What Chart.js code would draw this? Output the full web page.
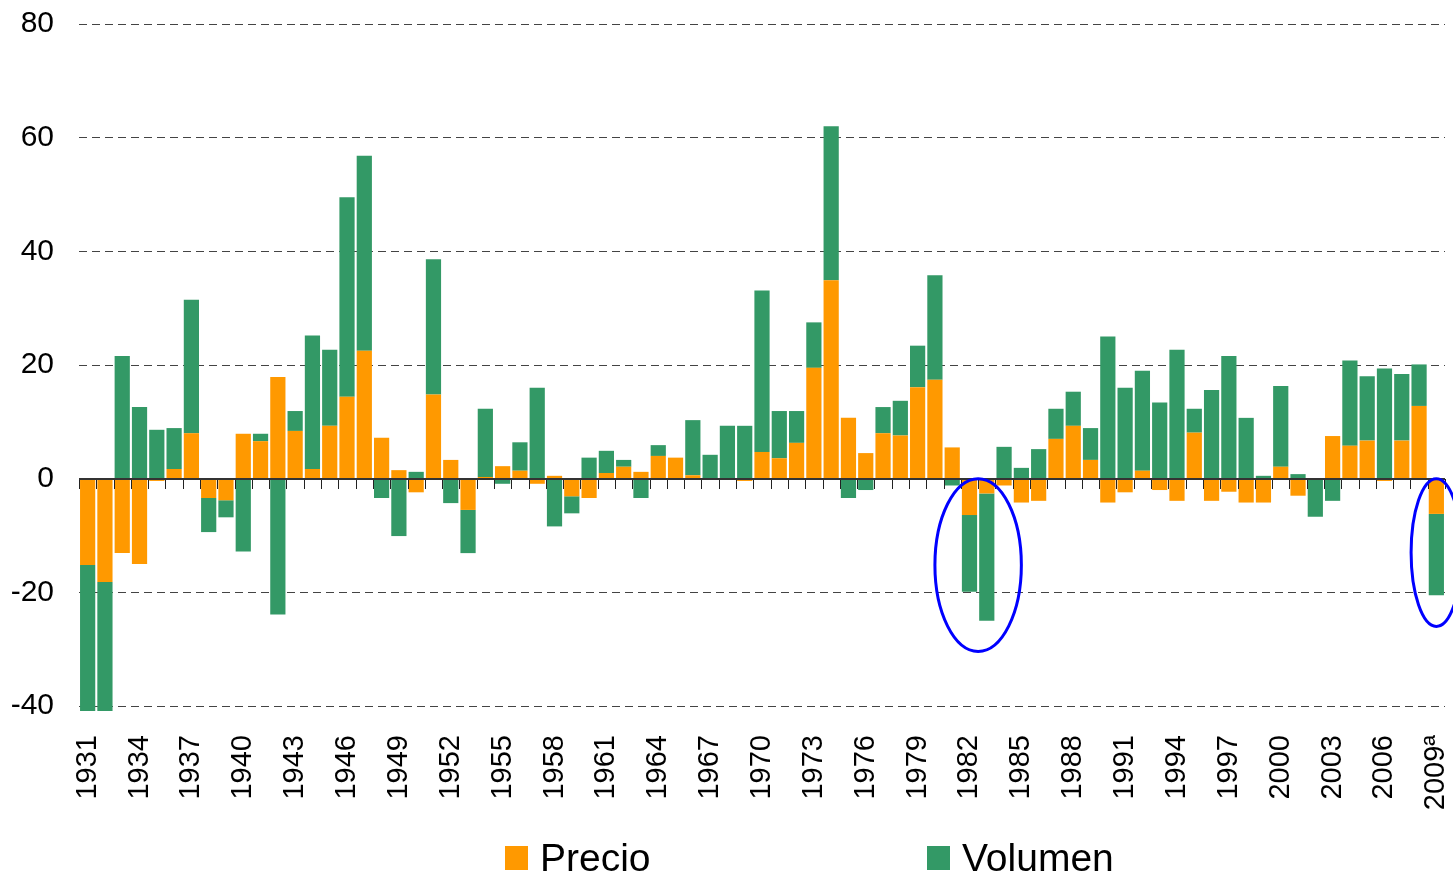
<!DOCTYPE html>
<html>
<head>
<meta charset="utf-8">
<script src="https://cdn.jsdelivr.net/npm/chart.js@4.4.1/dist/chart.umd.min.js"></script>
<style>
  html, body { margin: 0; padding: 0; background: #fff; }
  #wrap { position: relative; width: 1453px; height: 875px; }
  #legend { position: absolute; left: 0; top: 0; width: 1453px; height: 875px; pointer-events: none;
            font-family: 'Liberation Sans', Arial, sans-serif; }
  .item { position: absolute; top: 836px; display: flex; align-items: center; font-size: 39px;
          color: #000; white-space: nowrap; }
  .sw { width: 23px; height: 24px; margin-right: 12px; }
</style>
</head>
<body>
<div id="wrap">
  <canvas id="c" width="1453" height="875"></canvas>
  <div id="legend"></div>
</div>
<script>
// ---- Data ----
const years = [
  '1931','1932','1933','1934','1935','1936','1937','1938','1939','1940',
  '1941','1942','1943','1944','1945','1946','1947','1948','1949','1950',
  '1951','1952','1953','1954','1955','1956','1957','1958','1959','1960',
  '1961','1962','1963','1964','1965','1966','1967','1968','1969','1970',
  '1971','1972','1973','1974','1975','1976','1977','1978','1979','1980',
  '1981','1982','1983','1984','1985','1986','1987','1988','1989','1990',
  '1991','1992','1993','1994','1995','1996','1997','1998','1999','2000',
  '2001','2002','2003','2004','2005','2006','2007','2008','2009ª'
];

const precio = [
  -15.2, -18.2, -13.1, -15.0, -0.4, 1.7, 8.0, -3.4, -3.8, 7.9,
  6.6, 17.9, 8.4, 1.7, 9.3, 14.4, 22.5, 7.2, 1.5, -2.4,
  14.8, 3.3, -5.5, 0.3, 2.2, 1.4, -0.9, 0.5, -3.1, -3.4,
  1.0, 2.1, 1.2, 4.0, 3.7, 0.6, 0, 0, -0.4, 4.7,
  3.6, 6.3, 19.5, 34.9, 10.7, 4.5, 8.0, 7.6, 16.1, 17.4,
  5.5, -6.4, -2.6, -1.2, -4.2, -3.9, 7.0, 9.3, 3.3, -4.2,
  -2.4, 1.4, -2.0, -3.9, 8.1, -3.9, -2.3, -4.2, -4.2, 2.1,
  -3.0, 0, 7.5, 5.8, 6.7, -0.4, 6.7, 12.8, -6.2
];

const volumen = [
  -25.7, -22.7, 21.6, 12.6, 8.6, 7.2, 23.5, -6.0, -3.0, -12.8,
  1.3, -23.9, 3.5, 23.5, 13.4, 35.1, 34.3, -3.4, -10.1, 1.2,
  23.8, -4.3, -7.6, 12.0, -0.9, 5.0, 16.0, -8.4, -3.0, 3.7,
  3.9, 1.2, -3.4, 1.9, 0, 9.7, 4.2, 9.3, 9.3, 28.4,
  8.3, 5.6, 8.0, 27.1, -3.4, -2.0, 4.6, 6.1, 7.3, 18.4,
  -1.2, -13.5, -22.4, 5.6, 1.9, 5.2, 5.3, 6.0, 5.6, 25.0,
  16.0, 17.6, 13.4, 22.7, 4.2, 15.6, 21.6, 10.7, 0.5, 14.2,
  0.8, -6.7, -3.9, 15.0, 11.3, 19.4, 11.7, 7.3, -14.3
];

const shownYearLabels = [
  '1931','1934','1937','1940','1943','1946','1949','1952','1955','1958',
  '1961','1964','1967','1970','1973','1976','1979','1982','1985','1988',
  '1991','1994','1997','2000','2003','2006','2009ª'
];

const seriesNames = ['Precio', 'Volumen'];
const seriesColors = ['#FF9900', '#339966'];

// Highlighted periods (blue ellipses), in data units
const highlights = [
  { first: '1982', last: '1983', top: 0, bottom: -30.4, halfWidthSlots: 2.5 },
  { first: '2009ª', last: '2009ª', top: 0, bottom: -26.0, halfWidthSlots: 1.46 }
];

// ---- Plugins ----
const zeroAxisPlugin = {
  id: 'zeroAxis',
  afterDatasetsDraw(chart) {
    const { ctx, chartArea: a, scales: { x, y } } = chart;
    const y0 = Math.round(y.getPixelForValue(0));
    const n = years.length;
    const slot = (x.getPixelForValue(n - 1) - x.getPixelForValue(0)) / (n - 1);
    const start = x.getPixelForValue(0) - slot / 2;
    ctx.save();
    ctx.strokeStyle = '#222';
    ctx.lineWidth = 1;
    ctx.beginPath();
    for (let i = 0; i <= n; i++) {
      const px = Math.round(start + i * slot) + 0.5;
      ctx.moveTo(px, y0);
      ctx.lineTo(px, y0 + 10);
    }
    ctx.stroke();
    ctx.strokeStyle = '#333';
    ctx.lineWidth = 2;
    ctx.beginPath();
    ctx.moveTo(a.left, y0);
    ctx.lineTo(a.right, y0);
    ctx.stroke();
    ctx.restore();
  }
};

const ellipsePlugin = {
  id: 'ellipses',
  afterDraw(chart) {
    const { ctx, scales: { x, y } } = chart;
    const n = years.length;
    const slot = (x.getPixelForValue(n - 1) - x.getPixelForValue(0)) / (n - 1);
    ctx.save();
    ctx.strokeStyle = '#0000FF';
    ctx.lineWidth = 3;
    highlights.forEach(h => {
      const i1 = years.indexOf(h.first), i2 = years.indexOf(h.last);
      const cx = (x.getPixelForValue(i1) + x.getPixelForValue(i2)) / 2;
      const yt = y.getPixelForValue(h.top), yb = y.getPixelForValue(h.bottom);
      const cy = (yt + yb) / 2;
      ctx.beginPath();
      ctx.ellipse(cx, cy, h.halfWidthSlots * slot, (yb - yt) / 2, 0, 0, Math.PI * 2);
      ctx.stroke();
    });
    ctx.restore();
  }
};

// ---- Chart ----
const datasets = [precio, volumen].map((d, i) => ({
  label: seriesNames[i],
  data: d,
  backgroundColor: seriesColors[i],
  borderWidth: 0,
  barPercentage: 0.88,
  categoryPercentage: 1.0,
  clip: false
}));

new Chart(document.getElementById('c'), {
  type: 'bar',
  data: { labels: years, datasets },
  options: {
    responsive: false,
    animation: false,
    layout: { padding: { left: 0, right: 8, top: 24, bottom: 0 } },
    plugins: { legend: { display: false }, tooltip: { enabled: false } },
    scales: {
      x: {
        stacked: true,
        grid: { display: false, drawTicks: false },
        border: { display: false },
        ticks: {
          autoSkip: false,
          maxRotation: 90,
          minRotation: 90,
          padding: 29,
          color: '#000',
          font: { family: "'Liberation Sans', Arial, sans-serif", size: 29 },
          callback: function (v, idx) {
            const lab = years[idx];
            return shownYearLabels.includes(lab) ? lab : '';
          }
        },
        afterFit: s => { s.height = 169; s.paddingLeft = 0; s.paddingRight = 0; }
      },
      y: {
        stacked: true,
        min: -40,
        max: 80,
        grid: {
          drawTicks: false,
          lineWidth: 1,
          color: c => (c.tick && c.tick.value === 0) ? 'rgba(0,0,0,0)' : '#444'
        },
        border: { display: false, dash: [8, 5] },
        ticks: {
          stepSize: 20,
          padding: 25,
          color: '#000',
          font: { family: "'Liberation Sans', Arial, sans-serif", size: 30 }
        },
        afterFit: s => { s.width = 79; s.paddingTop = 0; s.paddingBottom = 0; }
      }
    }
  },
  plugins: [zeroAxisPlugin, ellipsePlugin]
});

// ---- HTML legend ----
const legendLefts = [505, 927];
const legend = document.getElementById('legend');
seriesNames.forEach((name, i) => {
  const it = document.createElement('div');
  it.className = 'item';
  it.style.left = legendLefts[i] + 'px';
  const sw = document.createElement('span');
  sw.className = 'sw';
  sw.style.background = seriesColors[i];
  const tx = document.createElement('span');
  tx.textContent = name;
  it.appendChild(sw);
  it.appendChild(tx);
  legend.appendChild(it);
});
</script>
</body>
</html>
